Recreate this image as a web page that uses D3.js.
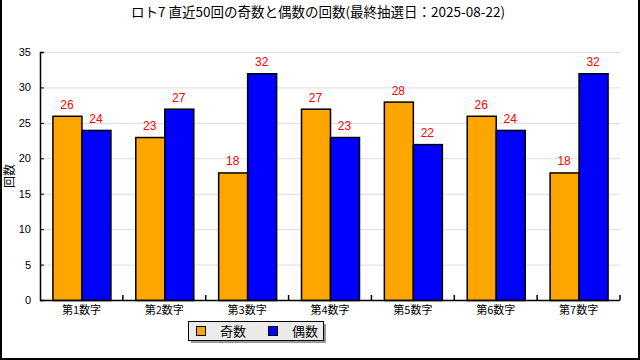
<!DOCTYPE html>
<html>
<head>
<meta charset="utf-8">
<script src="https://cdn.jsdelivr.net/npm/d3@7"></script>
<style>
  body { margin: 0; background: #fff; }
  text { font-family: "Liberation Sans", Arial, sans-serif; }
</style>
</head>
<body>
<script>
  // データ
  const categories = ["第1数字", "第2数字", "第3数字", "第4数字", "第5数字", "第6数字", "第7数字"];
  const oddCounts = [26, 23, 18, 27, 28, 26, 18];
  const evenCounts = [24, 27, 32, 23, 22, 24, 32];
  const seriesNames = ["奇数", "偶数"];
  const yTicks = [0, 5, 10, 15, 20, 25, 30, 35];

  const w = 640, h = 360;
  const plotLeft = 40, plotRight = 620, plotTop = 52, plotBottom = 300;
  const colors = ["#ffa500", "#0000ff"];

  const svg = d3.select("body").append("svg")
    .attr("width", w).attr("height", h);

  // 外枠
  svg.append("rect").attr("x", 0).attr("y", 0).attr("width", w).attr("height", h).attr("fill", "#fff");
  svg.append("path")
    .attr("d", "M1,0 V359 H639 V0")
    .attr("fill", "none").attr("stroke", "#000").attr("stroke-width", 2);

  // タイトル
  svg.append("text")
    .attr("x", 318).attr("y", 17)
    .attr("text-anchor", "middle")
    .style("font-family", "'Noto Sans CJK JP', sans-serif")
    .style("font-size", "13.5px")
    .text("ロト7 直近50回の奇数と偶数の回数(最終抽選日：2025-08-22)");

  const x = d3.scaleBand().domain(categories).range([plotLeft, plotRight])
    .paddingInner(0.3).paddingOuter(0.15);
  const xSub = d3.scaleBand().domain([0, 1]).range([0, x.bandwidth()]);
  const y = d3.scaleLinear().domain([0, 35]).range([plotBottom, plotTop]);

  // グリッド線
  svg.append("g").selectAll("line")
    .data(yTicks.filter(d => d > 0))
    .enter().append("line")
    .attr("x1", plotLeft).attr("x2", plotRight)
    .attr("y1", d => y(d) + 0.5).attr("y2", d => y(d) + 0.5)
    .attr("stroke", "#dcdcdc");

  // 棒
  const rows = categories.map((c, i) => ({ c: c, v: [oddCounts[i], evenCounts[i]] }));
  const groups = svg.append("g").selectAll("g")
    .data(rows).enter().append("g")
    .attr("transform", d => "translate(" + x(d.c) + ",0)");

  groups.selectAll("rect")
    .data(d => d.v.map((v, k) => ({ v: v, k: k })))
    .enter().append("rect")
    .attr("x", d => xSub(d.k) + 0.5)
    .attr("y", d => y(d.v) + 0.5)
    .attr("width", xSub.bandwidth())
    .attr("height", d => y(0) - y(d.v))
    .attr("fill", d => colors[d.k])
    .attr("stroke", "#000").attr("stroke-width", 1.5);

  groups.selectAll("text")
    .data(d => d.v.map((v, k) => ({ v: v, k: k })))
    .enter().append("text")
    .attr("x", d => xSub(d.k) + xSub.bandwidth() / 2)
    .attr("y", d => y(d.v) - 7)
    .attr("text-anchor", "middle")
    .attr("fill", "#ff0000")
    .style("font-size", "12px")
    .text(d => d.v);

  // Y軸
  const yAxis = svg.append("g")
    .attr("transform", "translate(" + plotLeft + ",0)")
    .call(d3.axisLeft(y).tickValues(yTicks).tickSize(-4).tickPadding(9));
  yAxis.select(".domain").attr("stroke-width", 1.5);
  yAxis.selectAll("text").style("font-size", "11px").style("font-family", "'Liberation Sans', sans-serif");

  // X軸
  const xAxis = svg.append("g")
    .attr("transform", "translate(0," + plotBottom + ")")
    .call(d3.axisBottom(x).tickSize(0).tickPadding(6));
  xAxis.select(".domain").attr("d", "M" + plotLeft + ",0.5H" + plotRight).attr("stroke-width", 1.5);
  xAxis.selectAll("text")
    .style("font-size", "11px")
    .style("font-family", "'Noto Sans CJK JP', sans-serif");

  // カテゴリ境界の目盛り
  const step = x.step();
  svg.append("g").selectAll("line")
    .data(d3.range(1, categories.length + 1))
    .enter().append("line")
    .attr("x1", d => plotLeft + d * step).attr("x2", d => plotLeft + d * step)
    .attr("y1", plotBottom).attr("y2", plotBottom - 5)
    .attr("stroke", "#000").attr("stroke-width", 1.5);

  // Y軸タイトル
  svg.append("text")
    .attr("transform", "translate(14,176) rotate(-90)")
    .attr("text-anchor", "middle")
    .style("font-family", "'Noto Sans CJK JP', sans-serif")
    .style("font-size", "12px")
    .text("回数");

  // 凡例
  const lg = svg.append("g").attr("transform", "translate(188,321)");
  lg.append("rect").attr("x", 3).attr("y", 3).attr("width", 135).attr("height", 19).attr("fill", "#999");
  lg.append("rect").attr("x", 0.5).attr("y", 0.5).attr("width", 135).attr("height", 19)
    .attr("fill", "#ebebeb").attr("stroke", "#000");
  const items = lg.selectAll("g.item").data(seriesNames).enter().append("g")
    .attr("transform", (d, i) => "translate(" + (8 + i * 72) + ",0)");
  items.append("rect").attr("x", 0.5).attr("y", 5.5).attr("width", 9).attr("height", 9)
    .attr("fill", (d, i) => colors[i]).attr("stroke", "#000");
  items.append("text").attr("x", 24).attr("y", 15)
    .style("font-family", "'Noto Sans CJK JP', sans-serif")
    .style("font-size", "13px")
    .text(d => d);
</script>
</body>
</html>
